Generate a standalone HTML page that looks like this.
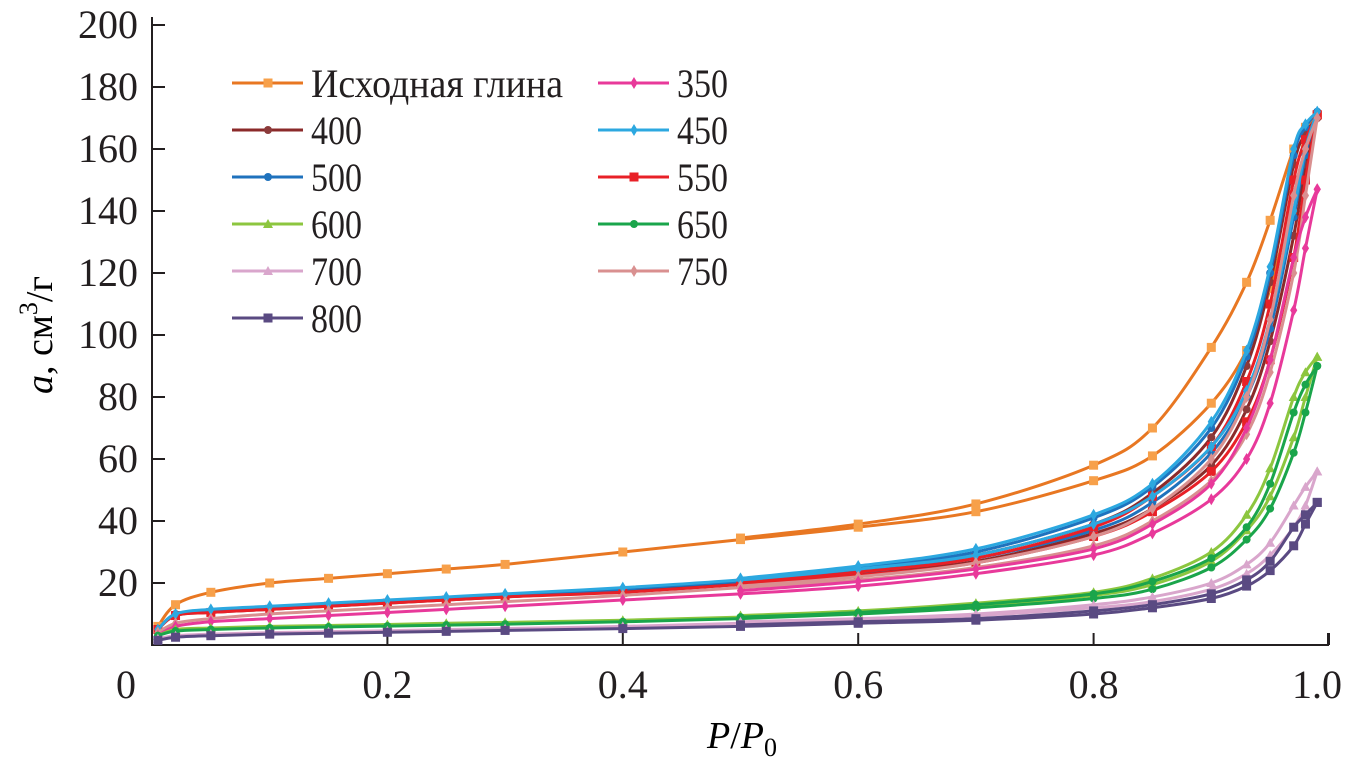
<!DOCTYPE html>
<html><head><meta charset="utf-8"><style>
html,body{margin:0;padding:0;background:#fff}
svg{display:block}
text{font-family:"Liberation Serif","Noto Serif CJK SC","DejaVu Serif",serif}
</style></head><body>
<svg id="chart" width="1354" height="765" viewBox="0 0 1354 765">
<g id="axes"></g>
<g id="series"></g>
<g id="legend"></g>
<text x="52" y="335" font-size="38" text-anchor="middle" transform="rotate(-90 52 335)"><tspan font-style="italic">a</tspan>, см<tspan font-size="26" dy="-15">3</tspan><tspan dy="15">/г</tspan></text>
<text x="742" y="748" font-size="38" text-anchor="middle"><tspan font-style="italic">P</tspan>/<tspan font-style="italic">P</tspan><tspan font-size="26" dy="8">0</tspan></text>
</svg>
<script>
const xTicks=[0,0.2,0.4,0.6,0.8,1.0];
const xTickLabels=["0","0.2","0.4","0.6","0.8","1.0"];
const yTicks=[20,40,60,80,100,120,140,160,180,200];
const XA=[0.005,0.02,0.05,0.1,0.15,0.2,0.25,0.3,0.4,0.5,0.6,0.7,0.8,0.85,0.9,0.93,0.95,0.97,0.98,0.99];
const XD=[0.5,0.6,0.7,0.8,0.85,0.9,0.93,0.95,0.97,0.98,0.99];
const names=["Исходная глина","350","400","450","500","550","600","650","700","750","800"];
const ads_clay=[6,13,17,20,21.5,23,24.5,26,30,34,38,43,53,61,78,95,115,145,160,171];
const des_clay=[34.5,39,45.5,58,70,96,117,137,160,167,171];
const ads_350=[3,6,7.5,8.5,9.5,10.5,11.5,12.5,14.5,16.5,19,23,29,36,47,60,78,108,128,147];
const des_350=[17.5,20.5,24.5,31,39,52,70,92,125,138,147];
const ads_400=[5,9.5,10.5,11.5,12.5,13.5,14.5,15.5,17.5,20,23,27,36,44,58,76,98,132,155,170];
const des_400=[20.5,24,29,39,49,67,90,117,155,165,170];
const ads_450=[5,10,11.5,12.5,13.5,14.5,15.5,16.5,18.5,21,24.5,29,39,48,64,82,105,140,160,172];
const des_450=[21.5,25.5,31,42,52,72,95,122,160,168,172];
const ads_500=[5,10,11,12,13,14,15,16,18,20.5,23.5,28,37,46,62,80,102,138,158,172];
const des_500=[21,25,30,41,51,70,93,120,158,167,172];
const ads_550=[5,9.5,10.5,11.5,12.5,13.5,14.5,15.5,17,19.5,22.5,26.5,35,43,56,72,92,125,150,171];
const des_550=[20,23.5,28,38,48,64,85,110,150,163,171];
const ads_600=[3,5,5.5,6,6.3,6.6,7,7.3,8,9,10.5,12.5,16,19.5,27,37,48,67,80,93];
const des_600=[9.5,11,13.5,17,21.5,30,42,57,80,88,93];
const ads_650=[3,4.5,5,5.5,5.8,6.1,6.4,6.7,7.5,8.5,10,12,15,18,25,34,44,62,75,90];
const des_650=[9,10.5,13,16.5,20.5,28,38,52,75,84,90];
const ads_700=[2,3,3.5,4,4.3,4.6,5,5.3,6,7,8,9.5,12,14,18,23,29,38,45,56];
const des_700=[7.5,8.5,10,13,15.5,20,26,33,45,51,56];
const ads_750=[4,7,8.5,10,11,12,13,14,16,18.5,21,25,32,40,53,68,88,120,145,170];
const des_750=[19,22,26.5,35,44,60,80,105,145,160,170];
const ads_800=[1.5,2.5,3,3.5,3.8,4.1,4.4,4.7,5.3,6,7,8,10,12,15,19,24,32,39,46];
const des_800=[6.5,7.5,8.5,11,13,16.5,21,27,38,42,46];

const NS="http://www.w3.org/2000/svg";
const X=v=>152+v*1177, Y=v=>645-v*3.1;
function mk(t,a,p){const e=document.createElementNS(NS,t);for(const k in a)e.setAttribute(k,a[k]);p.appendChild(e);return e;}
const axes=document.getElementById('axes');
let l=mk('path',{d:`M152 ${Y(200)-8}V645H1328V633`,fill:'none',stroke:'#231f20','stroke-width':2},axes);


xTicks.forEach((v,i)=>{
 const t=mk('line',{x1:X(v),x2:X(v),y1:645,y2:633,stroke:'#231f20','stroke-width':2},axes);
 
 
 const tx=mk('text',{x:i==0?126:X(v)-(i==5?12:0),y:698,'font-size':40,'text-anchor':'middle',fill:'#231f20'},axes);
 tx.textContent=xTickLabels[i];
 
 
});
yTicks.forEach(v=>{
 const t=mk('line',{x1:152,x2:165,y1:Y(v),y2:Y(v),stroke:'#231f20','stroke-width':2},axes);
 
 
 const tx=mk('text',{x:138,y:Y(v)+13,'font-size':40,'text-anchor':'end',fill:'#231f20'},axes);
 tx.textContent=String(v);
 
 
});
const S=[
 {n:0,a:ads_clay,d:des_clay,c:'#e87722',m:'#f7a04a',s:'sq',lx:232,ly:83},
 {n:1,a:ads_350,d:des_350,c:'#e8399a',m:'#e8399a',s:'di',lx:598,ly:83},
 {n:2,a:ads_400,d:des_400,c:'#8b2a2a',m:'#8b3a3a',s:'ci',lx:232,ly:130},
 {n:3,a:ads_450,d:des_450,c:'#2ca8e0',m:'#2ca8e0',s:'di',lx:598,ly:130},
 {n:4,a:ads_500,d:des_500,c:'#1f72bd',m:'#1f72bd',s:'ci',lx:232,ly:177},
 {n:5,a:ads_550,d:des_550,c:'#e82027',m:'#e82027',s:'sq',lx:598,ly:177},
 {n:6,a:ads_600,d:des_600,c:'#8cc63f',m:'#8cc63f',s:'tr',lx:232,ly:224},
 {n:7,a:ads_650,d:des_650,c:'#1aa54b',m:'#1aa54b',s:'ci',lx:598,ly:224},
 {n:8,a:ads_700,d:des_700,c:'#d9a6cc',m:'#d9a6cc',s:'tr',lx:232,ly:271},
 {n:9,a:ads_750,d:des_750,c:'#d99090',m:'#d99090',s:'di',lx:598,ly:271},
 {n:10,a:ads_800,d:des_800,c:'#5a4a82',m:'#5a4a82',s:'sq',lx:232,ly:318}
];
function smooth(p){let d=`M${p[0][0]} ${p[0][1]}`;for(let i=0;i<p.length-1;i++){const p0=p[i-1]||p[i],p1=p[i],p2=p[i+1],p3=p[i+2]||p2;
 d+=`C${p1[0]+(p2[0]-p0[0])/6} ${p1[1]+(p2[1]-p0[1])/6} ${p2[0]-(p3[0]-p1[0])/6} ${p2[1]-(p3[1]-p1[1])/6} ${p2[0]} ${p2[1]}`;}return d;}
function marker(g,s,x,y,c,r){
 if(s=='sq')return mk('rect',{x:x-r,y:y-r,width:2*r,height:2*r,fill:c},g);
 if(s=='ci')return mk('circle',{cx:x,cy:y,r:r,fill:c},g);
 if(s=='tr')return mk('path',{d:`M${x} ${y-r-1}L${x+r+1} ${y+r}L${x-r-1} ${y+r}Z`,fill:c},g);
 return mk('path',{d:`M${x} ${y-r}L${x+r*0.6} ${y}L${x} ${y+r}L${x-r*0.6} ${y}Z`,fill:c},g);
}
const sg=document.getElementById('series'), lg=document.getElementById('legend');
const order=[0,2,4,5,3,9,1,6,7,8,10];
order.forEach(k=>{const o=S[k];
 const g=mk('g',{},sg);
 
 
 const rs=o.s=='di'?6:(o.s=='sq'?4.5:4);
 [[XA,o.a],[XD,o.d]].forEach(([xs,ys],bi)=>{
  const pts=xs.map((x,i)=>[X(x),Y(ys[i])]);
  const p=mk('path',{d:smooth(pts),fill:'none',stroke:o.c,'stroke-width':3},g);
  
  
  pts.forEach(q=>{const m=marker(g,o.s,q[0],q[1],o.m,rs);
   
   });
 });
 const le=mk('g',{},lg);
 
 
 mk('line',{x1:o.lx,x2:o.lx+71,y1:o.ly,y2:o.ly,stroke:o.c,'stroke-width':3},le);
 marker(le,o.s,o.lx+36,o.ly,o.m,rs);
 const t=mk('text',{x:o.lx+79,y:o.ly+14,'font-size':40,fill:'#231f20'},le);
 t.textContent=names[o.n];
 if(o.n==0)t.setAttribute('textLength','252');
 else t.setAttribute('textLength','51');
 t.setAttribute('lengthAdjust','spacingAndGlyphs');
});
</script>
</body></html>
